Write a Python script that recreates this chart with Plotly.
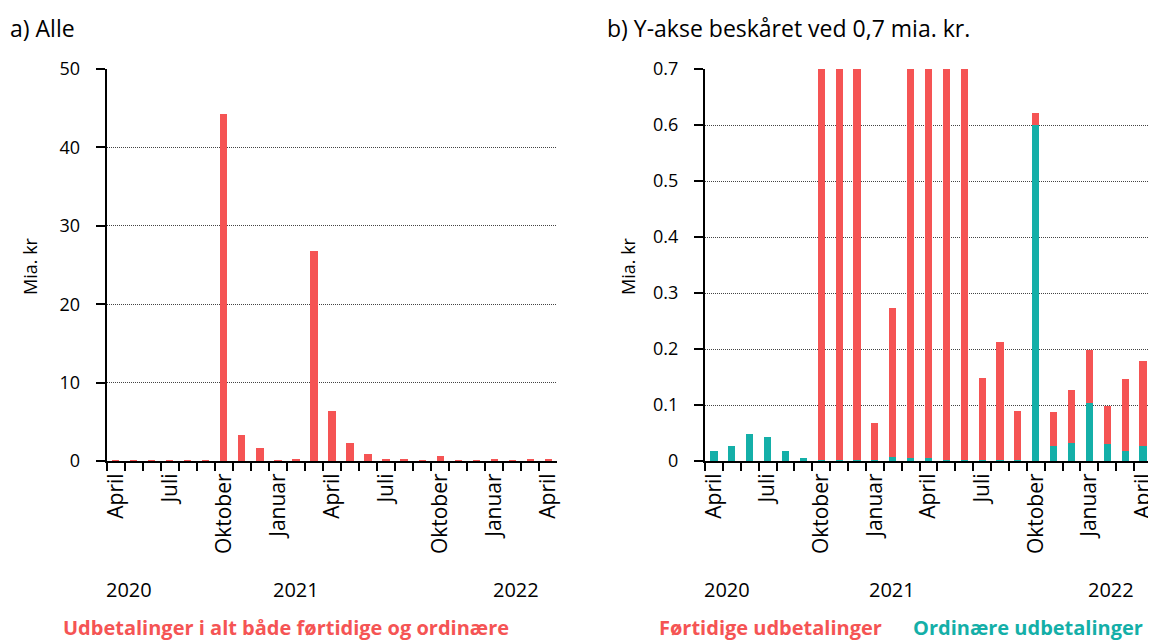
import plotly.graph_objects as go

months = ["2020-04", "2020-05", "2020-06", "2020-07", "2020-08", "2020-09", "2020-10", "2020-11", "2020-12",
          "2021-01", "2021-02", "2021-03", "2021-04", "2021-05", "2021-06", "2021-07", "2021-08", "2021-09",
          "2021-10", "2021-11", "2021-12", "2022-01", "2022-02", "2022-03", "2022-04"]
month_labels = ["April", "", "", "Juli", "", "", "Oktober", "", "", "Januar", "", "", "April", "", "",
                "Juli", "", "", "Oktober", "", "", "Januar", "", "", "April"]
# Mia. kr
fortidige = [0.0, 0.0, 0.0, 0.0, 0.0, 0.0, 44.2, 3.35, 1.6,
             0.067, 0.267, 26.75, 6.35, 2.35, 0.85, 0.147, 0.212, 0.088,
             0.022, 0.061, 0.093, 0.095, 0.067, 0.128, 0.152]
ordinaere = [0.017, 0.027, 0.048, 0.043, 0.017, 0.006, 0.001, 0.001, 0.001,
             0.001, 0.007, 0.006, 0.006, 0.002, 0.002, 0.001, 0.001, 0.002,
             0.6, 0.027, 0.033, 0.104, 0.031, 0.018, 0.027]
total = [a + b for a, b in zip(fortidige, ordinaere)]
years = ["2020", "2021", "2022"]
year_pos = [0.05, 0.419, 0.909]

RED = "#F55454"
TEAL = "#14AFA8"
FONT = "Open Sans"
OFF = 8  # page body margin
W, H = 1156 - OFF, 640 - OFF

fig = go.Figure()
fig.add_trace(go.Bar(x=months, y=total, marker=dict(color=RED, line=dict(width=0)),
                     xaxis="x", yaxis="y", showlegend=False))
fig.add_trace(go.Bar(x=months, y=ordinaere, marker=dict(color=TEAL, line=dict(width=0)),
                     xaxis="x2", yaxis="y2", showlegend=False))
fig.add_trace(go.Bar(x=months, y=fortidige, marker=dict(color=RED, line=dict(width=0)),
                     xaxis="x2", yaxis="y2", showlegend=False))

def px_x(v):
    return (v - OFF) / W

def px_y(v):
    return 1 - (v - OFF) / H

xcommon = dict(type="category", categoryorder="array", categoryarray=months,
               tickmode="array", tickvals=months, ticktext=month_labels, tickangle=-90,
               tickson="boundaries", ticks="outside", ticklen=8, tickwidth=2, tickcolor="black",
               showline=True, linecolor="black", linewidth=2, showgrid=False, zeroline=False,
               automargin=False, ticklabelstandoff=2,
               tickfont=dict(family=FONT, size=21, color="black"), range=[-0.5, 24.5])
ycommon = dict(ticks="outside", ticklen=9, tickwidth=2, tickcolor="black",
               showline=True, linecolor="black", linewidth=2,
               showgrid=True, gridcolor="#444444", gridwidth=1, griddash="1px,1px",
               zeroline=False, automargin=False, ticklabelstandoff=12,
               tickfont=dict(family=FONT, size=18, color="black"))

ydom = [px_y(461), px_y(69)]
fig.update_layout(
    width=W, height=H, margin=dict(l=0, r=0, t=0, b=0),
    paper_bgcolor="white", plot_bgcolor="white",
    barmode="stack", bargap=0.6,
    font=dict(family=FONT, color="black"),
    xaxis=dict(domain=[px_x(106.7), px_x(557.3)], anchor="y", **xcommon),
    yaxis=dict(domain=ydom, anchor="x", range=[0, 50], tickvals=[0, 10, 20, 30, 40, 50], **ycommon),
    xaxis2=dict(domain=[px_x(705), px_x(1152)], anchor="y2", **xcommon),
    yaxis2=dict(domain=ydom, anchor="x2", range=[0, 0.7],
                tickvals=[0, 0.1, 0.2, 0.3, 0.4, 0.5, 0.6, 0.7],
                ticktext=["0", "0.1", "0.2", "0.3", "0.4", "0.5", "0.6", "0.7"], **ycommon),
)

ann = []
ann.append(dict(text="a) Alle", x=px_x(8), y=px_y(28), xref="paper", yref="paper",
                xanchor="left", yanchor="middle", showarrow=False, font=dict(family=FONT, size=23)))
ann.append(dict(text="b) Y-akse beskåret ved 0,7 mia. kr.", x=px_x(605), y=px_y(28), xref="paper",
                yref="paper", xanchor="left", yanchor="middle", showarrow=False,
                font=dict(family=FONT, size=23)))
for xc in [30, 628]:
    ann.append(dict(text="Mia. kr", x=px_x(xc), y=px_y(266), xref="paper", yref="paper",
                    textangle=-90, xanchor="center", yanchor="middle", showarrow=False,
                    font=dict(family=FONT, size=18)))
for xr in ["x domain", "x2 domain"]:
    for yl, pos in zip(years, year_pos):
        ann.append(dict(text=yl, x=pos, y=px_y(589), xref=xr, yref="paper",
                        xanchor="center", yanchor="middle", showarrow=False,
                        font=dict(family=FONT, size=20)))
ann.append(dict(text="<b>Udbetalinger i alt både førtidige og ordinære</b>", x=px_x(61), y=px_y(627),
                xref="paper", yref="paper", xanchor="left", yanchor="middle", showarrow=False,
                font=dict(family=FONT, size=20, color=RED)))
ann.append(dict(text="<b>Førtidige udbetalinger</b>", x=px_x(657), y=px_y(627),
                xref="paper", yref="paper", xanchor="left", yanchor="middle", showarrow=False,
                font=dict(family=FONT, size=20, color=RED)))
ann.append(dict(text="<b>Ordinære udbetalinger</b>", x=px_x(911), y=px_y(627),
                xref="paper", yref="paper", xanchor="left", yanchor="middle", showarrow=False,
                font=dict(family=FONT, size=20, color=TEAL)))
fig.update_layout(annotations=ann)

fig.write_html("out.html")
